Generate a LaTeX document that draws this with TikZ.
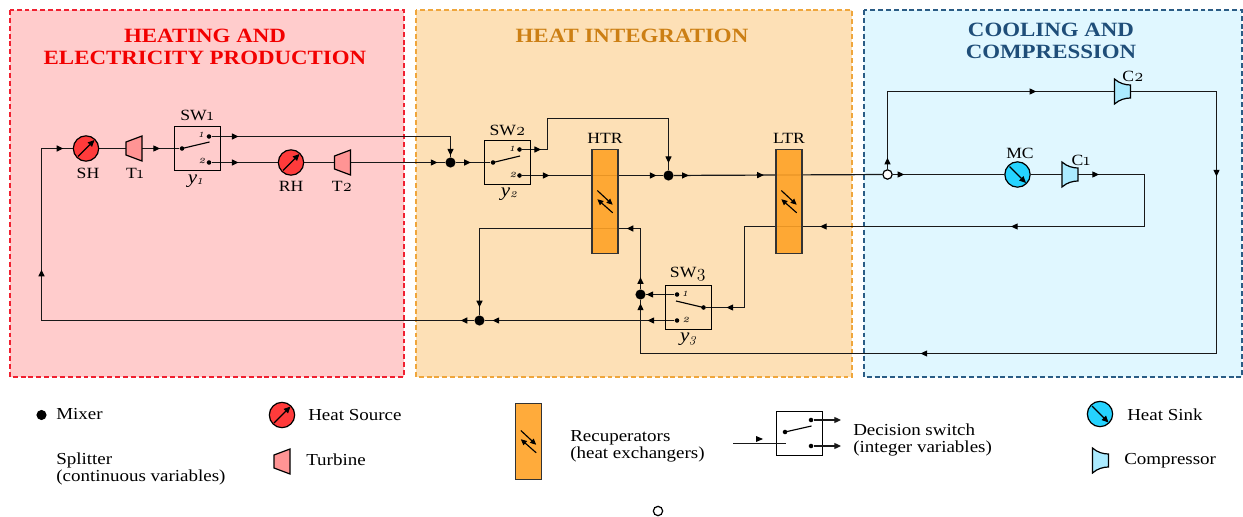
\documentclass[tikz,border=0pt]{standalone}
\usepackage{fontspec}
\setmainfont{Liberation Serif}[FakeStretch=1.13]
\newfontfamily\osfont[Numbers=OldStyle,Scale=1.12]{Latin Modern Roman}
\usetikzlibrary{arrows.meta,decorations.markings,calc}
\pgfdeclarelayer{panels}\pgfdeclarelayer{edges}
\pgfsetlayers{panels,edges,main}
\definecolor{pr}{HTML}{FFCCCC}\definecolor{po}{HTML}{FDE0B6}\definecolor{pb}{HTML}{E0F7FF}
\definecolor{br}{HTML}{F02030}\definecolor{bo}{HTML}{EFA63C}\definecolor{bb}{HTML}{2A5C85}
\definecolor{hot}{HTML}{FF3B3B}\definecolor{cold}{HTML}{25D3FF}\definecolor{hx}{HTML}{FFA226}
\definecolor{tur}{HTML}{FF9494}\definecolor{cmp}{HTML}{ABEBFF}
\definecolor{horange}{HTML}{CC7F14}\definecolor{hblue}{HTML}{1F4E79}
\newcommand{\os}[1]{{\osfont #1}}
\newcommand{\yy}[1]{{\fontsize{14}{14}\selectfont\textit{y}}{\fontsize{8.5}{8.5}\selectfont\itshape\osfont\raisebox{-0.3ex}{#1}}}
\newcommand{\turb}[1]{\draw[eq,fill=tur] ($(#1)+(-8,-6.5)$) -- ($(#1)+(8,-12.5)$) -- ($(#1)+(8,12.5)$) -- ($(#1)+(-8,6.5)$) -- cycle;}
\newcommand{\comp}[1]{\draw[eq,fill=cmp] ($(#1)+(-8,-12.5)$) .. controls ($(#1)+(-3,-8)$) and ($(#1)+(3,-6.5)$) .. ($(#1)+(8,-6.5)$) -- ($(#1)+(8,6.5)$) .. controls ($(#1)+(3,6.5)$) and ($(#1)+(-3,8)$) .. ($(#1)+(-8,12.5)$) -- cycle;}
\newcommand{\hotarrow}[1]{\draw[inner,-{Triangle[length=5pt,width=4.5pt]}] ($(#1)+(-8,8)$) -- ($(#1)+(8.5,-8.5)$);}
\newcommand{\coldarrow}[1]{\draw[inner,-{Triangle[length=5pt,width=4.5pt]}] ($(#1)+(-8,-8)$) -- ($(#1)+(8.5,8.5)$);}
\newcommand{\hxsym}[1]{\draw[inner,-{Triangle[length=4.5pt,width=4pt]}] ($(#1)+(-7.7,-11)$) -- ($(#1)+(7.7,3.3)$);
  \draw[inner,-{Triangle[length=4.5pt,width=4pt]}] ($(#1)+(7.7,11.3)$) -- ($(#1)+(-7.7,-2.3)$);}
\tikzset{
  ln/.style={line width=0.9pt,black!90},
  eq/.style={line width=0.9pt,black},
  inner/.style={line width=0.85pt,black},
  ah/.style={postaction={decorate,decoration={markings,mark=at position #1*0.75pt with {\arrow[black]{Triangle[length=5pt,width=4.5pt]}}}}},
  panel/.style={line width=0.8pt,dash pattern=on 3.7pt off 2.2pt},
  head/.style={font=\fontsize{15.2}{16.4}\selectfont\bfseries,align=center},
  lab/.style={font=\fontsize{11.7}{11.7}\selectfont,inner sep=0pt},
  leg/.style={font=\fontsize{12.6}{12.8}\selectfont,inner sep=0pt,anchor=west,align=left},
  mixer/.style={circle,fill=black,inner sep=0pt,minimum size=7.6pt},
  splitter/.style={circle,fill=white,draw=black,line width=0.9pt,inner sep=0pt,minimum size=7pt},
  cont/.style={circle,fill=black,inner sep=0pt,minimum size=3.4pt},
  unit/.style={circle,draw=black,line width=0.9pt,inner sep=0pt,minimum size=19pt},
  swbox/.style={draw=black,line width=0.9pt,inner sep=0pt,minimum width=34.5pt,minimum height=33pt},
  hxbox/.style={draw=black!80,line width=0.9pt,fill=hx,fill opacity=0.9,inner sep=0pt,minimum width=19.5pt,minimum height=78pt},
  tiny/.style={font=\fontsize{7.5}{7.5}\selectfont\itshape\osfont,inner sep=0pt},
}
\begin{document}
\begin{tikzpicture}[x=0.75pt,y=-0.75pt]
\useasboundingbox (0,0) rectangle (1243,517);
\begin{pgfonlayer}{panels}
\draw[panel,fill=pr,draw=br] (10,10) rectangle (404,377);
\draw[panel,fill=po,draw=bo] (416,10) rectangle (852,377);
\draw[panel,fill=pb,draw=bb] (864,10) rectangle (1242,377);
\end{pgfonlayer}
\node[head,text=red!95!black] (h1) at (205,46.5) {HEATING AND\\ELECTRICITY PRODUCTION};
\node[head,text=horange] (h2) at (632,36) {HEAT INTEGRATION};
\node[head,text=hblue] (h3) at (1051,40.5) {COOLING AND\\COMPRESSION};
% units
\node[unit,fill=hot] (SH) at (86,148.5) {};
\node[unit,fill=hot] (RH) at (291,162.5) {};
\node[unit,fill=cold] (MC) at (1017.5,174.5) {};
\coordinate (T1) at (134,148.5); \coordinate (T2) at (342.5,162.5);
\coordinate (C1) at (1070,174.5); \coordinate (C2) at (1122.5,91.5);
\node[swbox] (SW1) at (197.5,148.5) {};
\node[swbox] (SW2) at (507.5,162.5) {};
\node[swbox] (SW3) at (688.5,307.5) {};
\node[cont] (s1i) at (182,148.5) {}; \node[cont] (s1a) at (209,136.5) {}; \node[cont] (s1b) at (209,162.5) {};
\node[cont] (s2i) at (493,162.5) {}; \node[cont] (s2a) at (519.5,149.5) {}; \node[cont] (s2b) at (519.5,175.5) {};
\node[cont] (s3i) at (703.5,307.5) {}; \node[cont] (s3a) at (677,294.5) {}; \node[cont] (s3b) at (677,320.5) {};
\draw[inner] (s1i.center) -- (209.5,142); \draw[inner] (s2i.center) -- (520,156); \draw[inner] (s3i.center) -- (676,301);
\node[hxbox] (HTR) at (605,201.5) {};
\node[hxbox] (LTR) at (789,201.5) {};
\node[mixer] (m1) at (450.5,162.5) {};
\node[mixer] (m2) at (668.5,175.5) {};
\node[mixer] (m3) at (640.5,294.5) {};
\node[mixer] (m4) at (479.5,320.5) {};
\node[splitter] (sp) at (887.5,174.5) {};
\hotarrow{SH}\hotarrow{RH}\coldarrow{MC}\turb{T1}\turb{T2}\comp{C1}\comp{C2}
\coordinate (HTRc) at (605,201.5); \coordinate (LTRc) at (789,201.5);
\hxsym{HTRc}\hxsym{LTRc}
% labels
\node[lab] (lSH) at (88,173) {SH}; \node[lab] (lT1) at (135,173) {T\os{1}};
\node[lab] (lRH) at (291,186) {RH}; \node[lab] (lT2) at (342,186) {T\os{2}};
\node[lab] (lS1) at (197,115) {SW\os{1}}; \node[lab] (lS2) at (507.5,130) {SW\os{2}}; \node[lab] (lS3) at (688,274) {SW\os{3}};
\node[lab] (lH) at (605,138) {HTR}; \node[lab] (lL) at (789,138) {LTR};
\node[lab] (lM) at (1020,153) {MC}; \node[lab] (lC1) at (1081,160) {C\os{1}}; \node[lab] (lC2) at (1133,76) {C\os{2}};
\node[lab] (y1) at (195,181) {\yy{1}}; \node[lab] (y2) at (509,194) {\yy{2}}; \node[lab] (y3) at (688,339) {\yy{3}};
\node[tiny] (n1a) at (201,135) {1}; \node[tiny] (n1b) at (202,161) {2};
\node[tiny] (n2a) at (512,149) {1}; \node[tiny] (n2b) at (513,175) {2};
\node[tiny] (n3a) at (685,294) {1}; \node[tiny] (n3b) at (686,320) {2};
% way points
\coordinate (a1) at (41.5,320.5); \coordinate (a2) at (41.5,148.5);
\coordinate (b1) at (450.5,136.5);
\coordinate (c1) at (547.5,149.5); \coordinate (c2) at (547.5,118.5); \coordinate (c3) at (668.5,118.5);
\coordinate (d1) at (1144.5,174.5); \coordinate (d2) at (1144.5,226.5); \coordinate (d3) at (744.5,226.5); \coordinate (d4) at (744.5,307.5);
\coordinate (e1) at (887.5,91.5);
\coordinate (f1) at (1216.5,91.5); \coordinate (f2) at (1216.5,353.5); \coordinate (f3) at (640.5,353.5);
\coordinate (g1) at (640.5,228.5); \coordinate (g2) at (479.5,228.5);
\begin{pgfonlayer}{edges}
\draw[ln,ah=13.5,ah=483.5,ah=626.5] (m4) -- (a1) -- (a2) -- (SH);
\draw[ln] (SH) -- (T1);
\draw[ln,ah=26] (T1) -- (s1i);
\draw[ln,ah=27,ah=258] (s1a) -- (b1) -- (m1);
\draw[ln,ah=27] (s1b) -- (RH);
\draw[ln] (RH) -- (T2);
\draw[ln,ah=95] (T2) -- (m1);
\draw[ln,ah=15] (m1) -- (s2i);
\draw[ln,ah=19,ah=222] (s2a) -- (c1) -- (c2) -- (c3) -- (m2);
\draw[ln,ah=27.5,ah=134.5] (s2b) -- (m2);
\draw[ln,ah=15,ah=90] (m2) -- (sp);
\draw[ln,ah=11.5] (sp) -- (MC);
\draw[ln] (MC) -- (C1);
\draw[ln,ah=29,ah=260,ah=451,ah=625.5] (C1) -- (d1) -- (d2) -- (d3) -- (d4) -- (s3i);
\draw[ln,ah=11.5,ah=226.5] (sp) -- (e1) -- (C2);
\draw[ln,ah=179,ah=652,ah=982] (C2) -- (f1) -- (f2) -- (f3) -- (m3);
\draw[ln,ah=28] (s3a) -- (m3);
\draw[ln,ah=27,ah=182] (s3b) -- (m4);
\draw[ln,ah=12,ah=74.5,ah=300.5] (m3) -- (g1) -- (g2) -- (m4);
\end{pgfonlayer}
% legend
\node[mixer] (Lm) at (41.5,415) {};
\node[leg] (Lmt) at (56,414) {Mixer};
\node[leg] (Lst) at (56,469) {Splitter\\(continuous variables)};
\node[unit,fill=hot] (Lh) at (282,415) {}; \hotarrow{Lh}
\node[leg] (Lht) at (308,415) {Heat Source};
\coordinate (Lt) at (282,461.5); \turb{Lt}
\node[leg] (Ltt) at (306,460) {Turbine};
\node[hxbox,minimum height=57.5pt] (Lr) at (528.5,441.5) {};
\coordinate (Lrc) at (528.5,441.5); \hxsym{Lrc}
\node[leg] (Lrt) at (570,446) {Recuperators\\(heat exchangers)};
\node[swbox] (Ls) at (799.5,433.5) {};
\node[cont] (Lsi) at (785,432) {}; \node[cont] (Lsa) at (811,420) {}; \node[cont] (Lsb) at (811,446) {};
\draw[inner] (Lsi.center) -- (811.5,426);
\coordinate (Lin) at (733,443.5); \coordinate (Lie) at (786,443.5);
\coordinate (Loa) at (841,420); \coordinate (Lob) at (841,446);
\draw[ln] (Lin) -- (Lie);
\fill[black] (756,436) -- (763,439) -- (756,442) -- cycle;
\draw[ln,-{Triangle[length=5pt,width=4.5pt]}] (Lsa) -- (Loa);
\draw[ln,-{Triangle[length=5pt,width=4.5pt]}] (Lsb) -- (Lob);
\node[leg] (Lst2) at (853,440) {Decision switch\\(integer variables)};
\node[unit,fill=cold] (Lk) at (1100,414) {}; \coldarrow{Lk}
\node[leg] (Lkt) at (1127,415) {Heat Sink};
\coordinate (Lc) at (1100.5,460.5); \comp{Lc}
\node[leg] (Lct) at (1124,461) {Compressor};
\node[splitter,minimum size=7pt] (Lsp) at (658,511) {};
\end{tikzpicture}
\end{document}
